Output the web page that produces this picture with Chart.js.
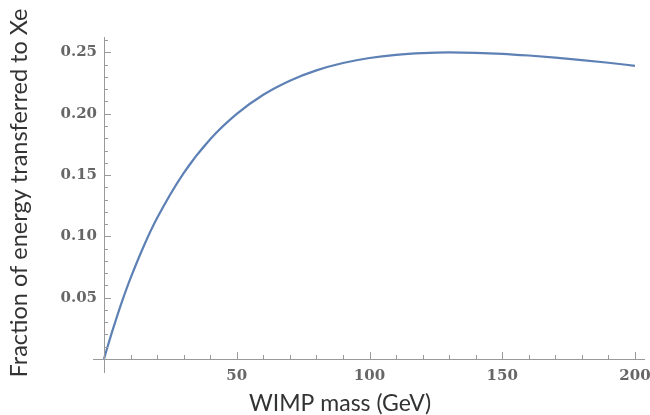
<!DOCTYPE html>
<html>
<head>
<meta charset="utf-8">
<script src="https://cdn.jsdelivr.net/npm/chart.js@4/dist/chart.umd.min.js"></script>
<style>
  html, body { margin: 0; padding: 0; background: #fff; }
  #wrap { width: 650px; height: 415px; position: relative; }
</style>
</head>
<body>
<div id="wrap"><canvas id="energyChart"></canvas></div>
<script>
// WIMP mass (GeV) and fraction of recoil energy given to a Xe nucleus
const wimpMass = [0, 1, 2, 3, 5, 7, 10, 15, 20, 30, 40, 50, 60, 70, 80, 90,
  100, 110, 120, 130, 140, 150, 160, 170, 180, 190, 200];
const energyFraction = [0, 0.0075, 0.0148, 0.0219, 0.0354, 0.0482, 0.0659, 0.0922,
  0.1149, 0.1516, 0.1792, 0.1999, 0.2155, 0.2270, 0.2354, 0.2414,
  0.2455, 0.2481, 0.2495, 0.2500, 0.2497, 0.2489, 0.2475, 0.2458, 0.2438, 0.2416, 0.2391];

const xTicks = [50, 100, 150, 200];
const yTicks = [0.05, 0.10, 0.15, 0.20, 0.25];
const xTitle = "WIMP mass (GeV)";
const yTitle = "Fraction of energy transferred to Xe";

const AXIS = "#9a9a9a";
const LABEL = "#666";

/* ── Mathematica-style axes crossing at the origin ── */
const originAxes = {
  id: "originAxes",
  afterDraw(chart) {
    const { ctx, scales: { x, y } } = chart;
    const x0 = x.getPixelForValue(0);
    const y0 = y.getPixelForValue(0);
    ctx.save();
    ctx.strokeStyle = AXIS;
    ctx.lineWidth = 1;
    ctx.beginPath();
    ctx.moveTo(x0 - 11, y0 + 0.5);
    ctx.lineTo(x.right + 10, y0 + 0.5);
    ctx.moveTo(x0 + 0.5, y.top);
    ctx.lineTo(x0 + 0.5, y0 + 14);

    // x ticks: major every 50, minor every 10
    for (let v = 0; v <= 200; v += 10) {
      const px = Math.round(x.getPixelForValue(v)) + 0.5;
      const len = v % 50 === 0 ? 7 : 4;
      ctx.moveTo(px, y0);
      ctx.lineTo(px, y0 - len);
    }
    // y ticks: major every 0.05, minor every 0.01
    for (let i = 0; i <= 26; i++) {
      const py = Math.round(y.getPixelForValue(i / 100)) + 0.5;
      const len = i % 5 === 0 ? 7 : 4;
      ctx.moveTo(x0, py);
      ctx.lineTo(x0 + len, py);
    }
    ctx.stroke();

    // axis titles
    ctx.fillStyle = "#333";
    ctx.textAlign = "center";
    ctx.textBaseline = "alphabetic";
    ctx.font = "23px Lato, sans-serif";
    ctx.fillText(xTitle, 340, 411);
    ctx.translate(27, 193);
    ctx.rotate(-Math.PI / 2);
    ctx.font = "23.5px Lato, sans-serif";
    ctx.fillText(yTitle, 0, 0);
    ctx.restore();
  },
};

const ctx = document.getElementById("energyChart").getContext("2d");
new Chart(ctx, {
  type: "scatter",
  data: {
    datasets: [
      {
        data: wimpMass.map((m, i) => ({ x: m, y: energyFraction[i] })),
        showLine: true,
        borderColor: "#5e81b5",
        borderWidth: 2.2,
        pointRadius: 0,
        cubicInterpolationMode: "monotone",
        clip: false,
      },
    ],
  },
  options: {
    responsive: true,
    maintainAspectRatio: false,
    animation: false,
    layout: { padding: { top: 37, right: 0, left: 0, bottom: 0 } },
    plugins: { legend: { display: false }, tooltip: { enabled: false } },
    scales: {
      x: {
        type: "linear",
        min: 0,
        max: 200,
        afterBuildTicks: (s) => { s.ticks = xTicks.map((v) => ({ value: v })); },
        afterFit: (s) => { s.height = 56; s.paddingRight = 15; s.paddingLeft = 0; },
        grid: { display: false, drawTicks: false },
        border: { display: false },
        ticks: {
          padding: 8,
          maxRotation: 0,
          color: LABEL,
          font: { family: "'DejaVu Serif', serif", size: 15, weight: "bold" },
        },
      },
      y: {
        type: "linear",
        min: 0,
        max: 0.2626,
        afterBuildTicks: (s) => { s.ticks = yTicks.map((v) => ({ value: v })); },
        afterFit: (s) => { s.width = 104; },
        grid: { display: false, drawTicks: false },
        border: { display: false },
        ticks: {
          padding: 7,
          color: LABEL,
          font: { family: "'DejaVu Serif', serif", size: 15, weight: "bold" },
          callback: (v) => v.toFixed(2),
        },
      },
    },
  },
  plugins: [originAxes],
});
</script>
</body>
</html>
